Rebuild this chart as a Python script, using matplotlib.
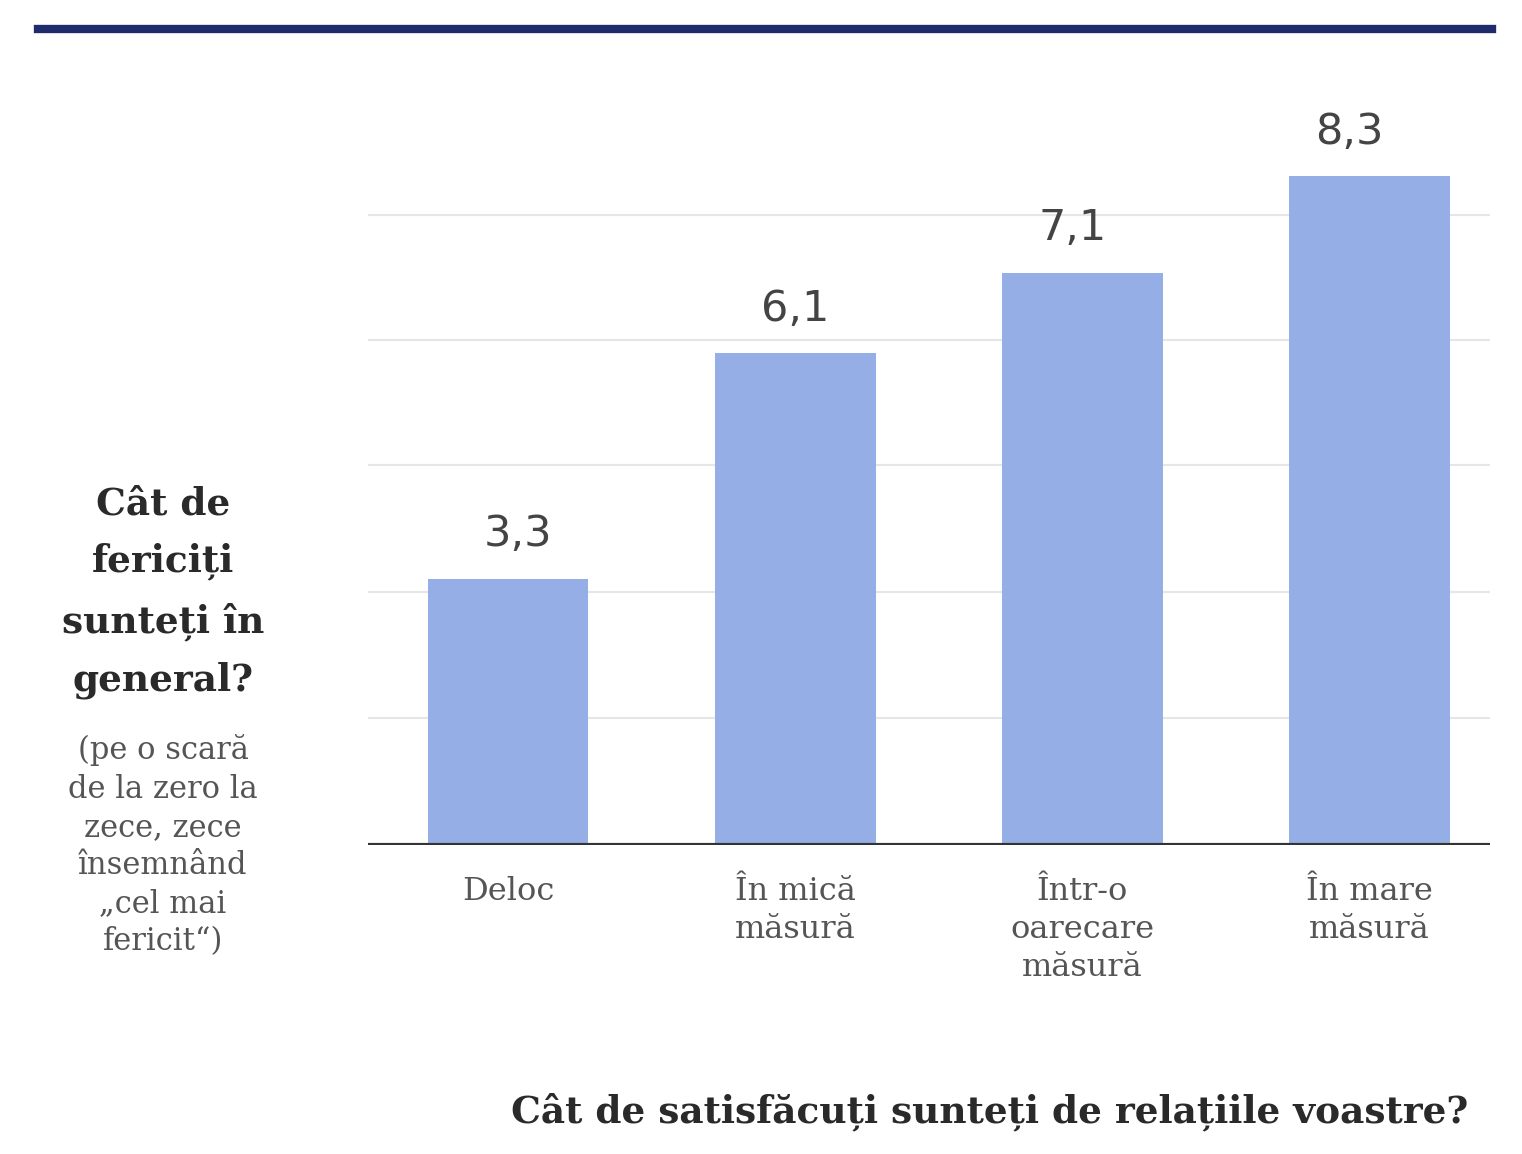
import matplotlib
matplotlib.use("Agg")
import matplotlib.pyplot as plt
from matplotlib.lines import Line2D

categories = ["Deloc", "În mică\nmăsură", "Într-o\noarecare\nmăsură", "În mare\nmăsură"]
values = [3.3, 6.1, 7.1, 8.3]
value_labels = ["3,3", "6,1", "7,1", "8,3"]
grid_levels = [1.57, 3.14, 4.71, 6.27, 7.82]

# small horizontal nudges of the value labels (style only)
label_nudge = [0.035, 0.0, -0.035, -0.07]

W, H = 1522, 1154
fig = plt.figure(figsize=(W / 100, H / 100), dpi=100)
fig.patch.set_facecolor("white")

ax = fig.add_axes([368 / W, (H - 845) / H, (1490 - 368) / W, (845 - 152) / H])
ax.set_xlim(-0.488, 3.42)
ax.set_ylim(0, 8.6)

for g in grid_levels:
    ax.axhline(g, color="#e6e6e6", lw=1.5, zorder=0)

x = list(range(len(values)))
ax.bar(x, values, width=0.56, color="#95aee6", zorder=2)
ax.axhline(0, color="#333333", lw=3, zorder=3)

for xi, v, lab, dx in zip(x, values, value_labels, label_nudge):
    ax.annotate(lab, (xi + dx, v), xytext=(0, 17), textcoords="offset points",
                ha="center", va="bottom", fontsize=31, color="#444444",
                family="DejaVu Sans")

ax.set_xticks(x)
ax.set_xticklabels(categories, fontsize=23, color="#555555", family="DejaVu Serif",
                   linespacing=1.3, va="top")
ax.tick_params(axis="x", length=0, pad=22)
ax.set_yticks([])
for s in ax.spines.values():
    s.set_visible(False)

# top navy rule
fig.add_artist(Line2D([38 / W, 1492 / W], [(H - 29) / H, (H - 29) / H],
                      color="#1f2b6b", lw=6))

fig.text(163 / W, (H - 592) / H, "Cât de\nfericiți\nsunteți în\ngeneral?",
         ha="center", va="center", fontsize=27, fontweight="bold",
         color="#2a2a2a", family="DejaVu Serif", linespacing=1.72)
fig.text(163 / W, (H - 846) / H,
         "(pe o scară\nde la zero la\nzece, zece\nînsemnând\n„cel mai\nfericit“)",
         ha="center", va="center", fontsize=22, color="#555555",
         family="DejaVu Serif", linespacing=1.3)

fig.text(1468 / W, (H - 1112) / H, "Cât de satisfăcuți sunteți de relațiile voastre?",
         ha="right", va="center", fontsize=27, fontweight="bold",
         color="#2a2a2a", family="DejaVu Serif")

fig.savefig("out.png", dpi=100, facecolor="white")
